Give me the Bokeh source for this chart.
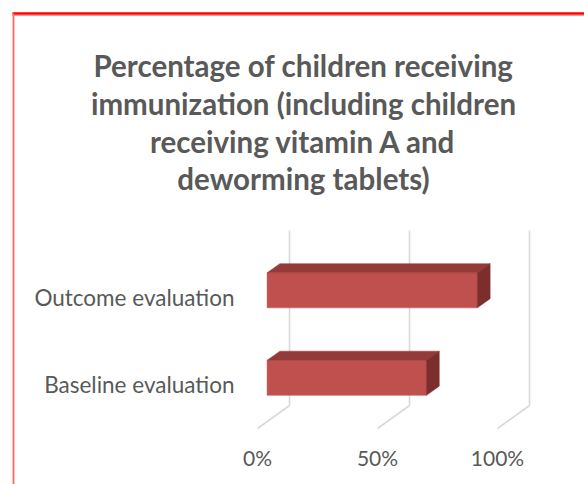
from bokeh.plotting import figure
from bokeh.models import Range1d
from bokeh.core.properties import value
from bokeh.embed import file_html
from bokeh.resources import INLINE

# ---- data ----
categories = ["Baseline evaluation", "Outcome evaluation"]
percent = [66.4, 87.6]
tick_values = [0, 50, 100]
tick_labels = ["0%", "50%", "100%"]
title_lines = [
    "Percentage of children receiving",
    "immunization (including children",
    "receiving vitamin A and",
    "deworming tablets)",
]

# ---- canvas / projection setup ----
W, H = 584, 484
PX_PER_PCT = 2.4          # horizontal pixels per percent
X0_PX = 257               # front-plane 0% position
FLOOR_PX = 428            # front floor line
PX_PER_CAT = 87.5         # vertical pixels per category
DEPTH_X = 32 / PX_PER_PCT  # depth offset in percent units
DEPTH_Y = 23 / PX_PER_CAT  # depth offset in category units
BAR_HALF = 0.2            # half bar height (category units)
BAR_D0, BAR_D1 = 0.3, 0.7  # bar depth extent (fraction of full depth)


def px_x(px):
    return (px - X0_PX) / PX_PER_PCT


def px_y(py):
    return (FLOOR_PX - py) / PX_PER_CAT - 0.5


def proj(v, c, d):
    """Project (value, category position, depth fraction) to plot coordinates."""
    return v + DEPTH_X * d, c + DEPTH_Y * d


p = figure(width=W, height=H, output_backend="svg", toolbar_location=None,
           x_range=Range1d(px_x(0), px_x(W)), y_range=Range1d(px_y(H), px_y(0)),
           min_border=0)
p.axis.visible = False
p.grid.visible = False
p.outline_line_color = None
p.background_fill_color = "white"
p.border_fill_color = "white"

GRID = "#D9D9D9"
TEXT = "#595959"
n = len(categories)
c_lo, c_hi = -0.5, n - 0.5

# back-wall verticals and floor diagonals at each tick
for t in tick_values:
    bx0, by0 = proj(t, c_lo, 1)
    bx1, by1 = proj(t, c_hi, 1)
    p.line([bx0, bx1], [by0, by1], line_color=GRID, line_width=1.6)
    fx, fy = proj(t, c_lo, 0)
    p.line([fx, bx0], [fy, by0], line_color=GRID, line_width=1.6)

# 3D bars: front face, top face, side face
front_x, front_y, top_x, top_y, side_x, side_y = [], [], [], [], [], []
for i, v in enumerate(percent):
    lo, hi = i - BAR_HALF, i + BAR_HALF
    pts = [proj(0, lo, BAR_D0), proj(v, lo, BAR_D0), proj(v, hi, BAR_D0), proj(0, hi, BAR_D0)]
    front_x.append([q[0] for q in pts]); front_y.append([q[1] for q in pts])
    pts = [proj(0, hi, BAR_D0), proj(v, hi, BAR_D0), proj(v, hi, BAR_D1), proj(0, hi, BAR_D1)]
    top_x.append([q[0] for q in pts]); top_y.append([q[1] for q in pts])
    pts = [proj(v, lo, BAR_D0), proj(v, lo, BAR_D1), proj(v, hi, BAR_D1), proj(v, hi, BAR_D0)]
    side_x.append([q[0] for q in pts]); side_y.append([q[1] for q in pts])

p.patches(front_x, front_y, fill_color="#C0504D", line_color="#C0504D", line_width=0.5)
p.patches(top_x, top_y, fill_color="#943A38", line_color="#943A38", line_width=0.5)
p.patches(side_x, side_y, fill_color="#7B2E2C", line_color="#7B2E2C", line_width=0.5)

# category labels
p.text(x=[px_x(234)] * n, y=list(range(n)), text=categories,
       text_font=value("Lato"), text_font_size="22.5px", text_color=TEXT,
       text_align="right", text_baseline="middle")

# value-axis tick labels along the front floor
p.text(x=tick_values, y=[px_y(457)] * len(tick_values), text=tick_labels,
       text_font=value("Lato"), text_font_size="21px", text_color=TEXT,
       text_align="center", text_baseline="middle")

# title, one row per line
baselines = [65, 103, 141, 178]
p.text(x=[px_x(303)] * len(title_lines), y=[px_y(b) for b in baselines], text=title_lines,
       text_font=value("Lato"), text_font_size="29.5px", text_font_style="bold",
       text_color=TEXT, text_align="center", text_baseline="alphabetic")

# red frame edges
p.line([px_x(12), px_x(W)], [px_y(13), px_y(13)], line_color="#FF0000", line_width=2.5)
p.line([px_x(12), px_x(W)], [px_y(15), px_y(15)], line_color="#FF9999", line_width=1)
p.line([px_x(13), px_x(13)], [px_y(13), px_y(H)], line_color="#FF6666", line_width=1.8)

open("out.html", "w").write(file_html(p, INLINE))
